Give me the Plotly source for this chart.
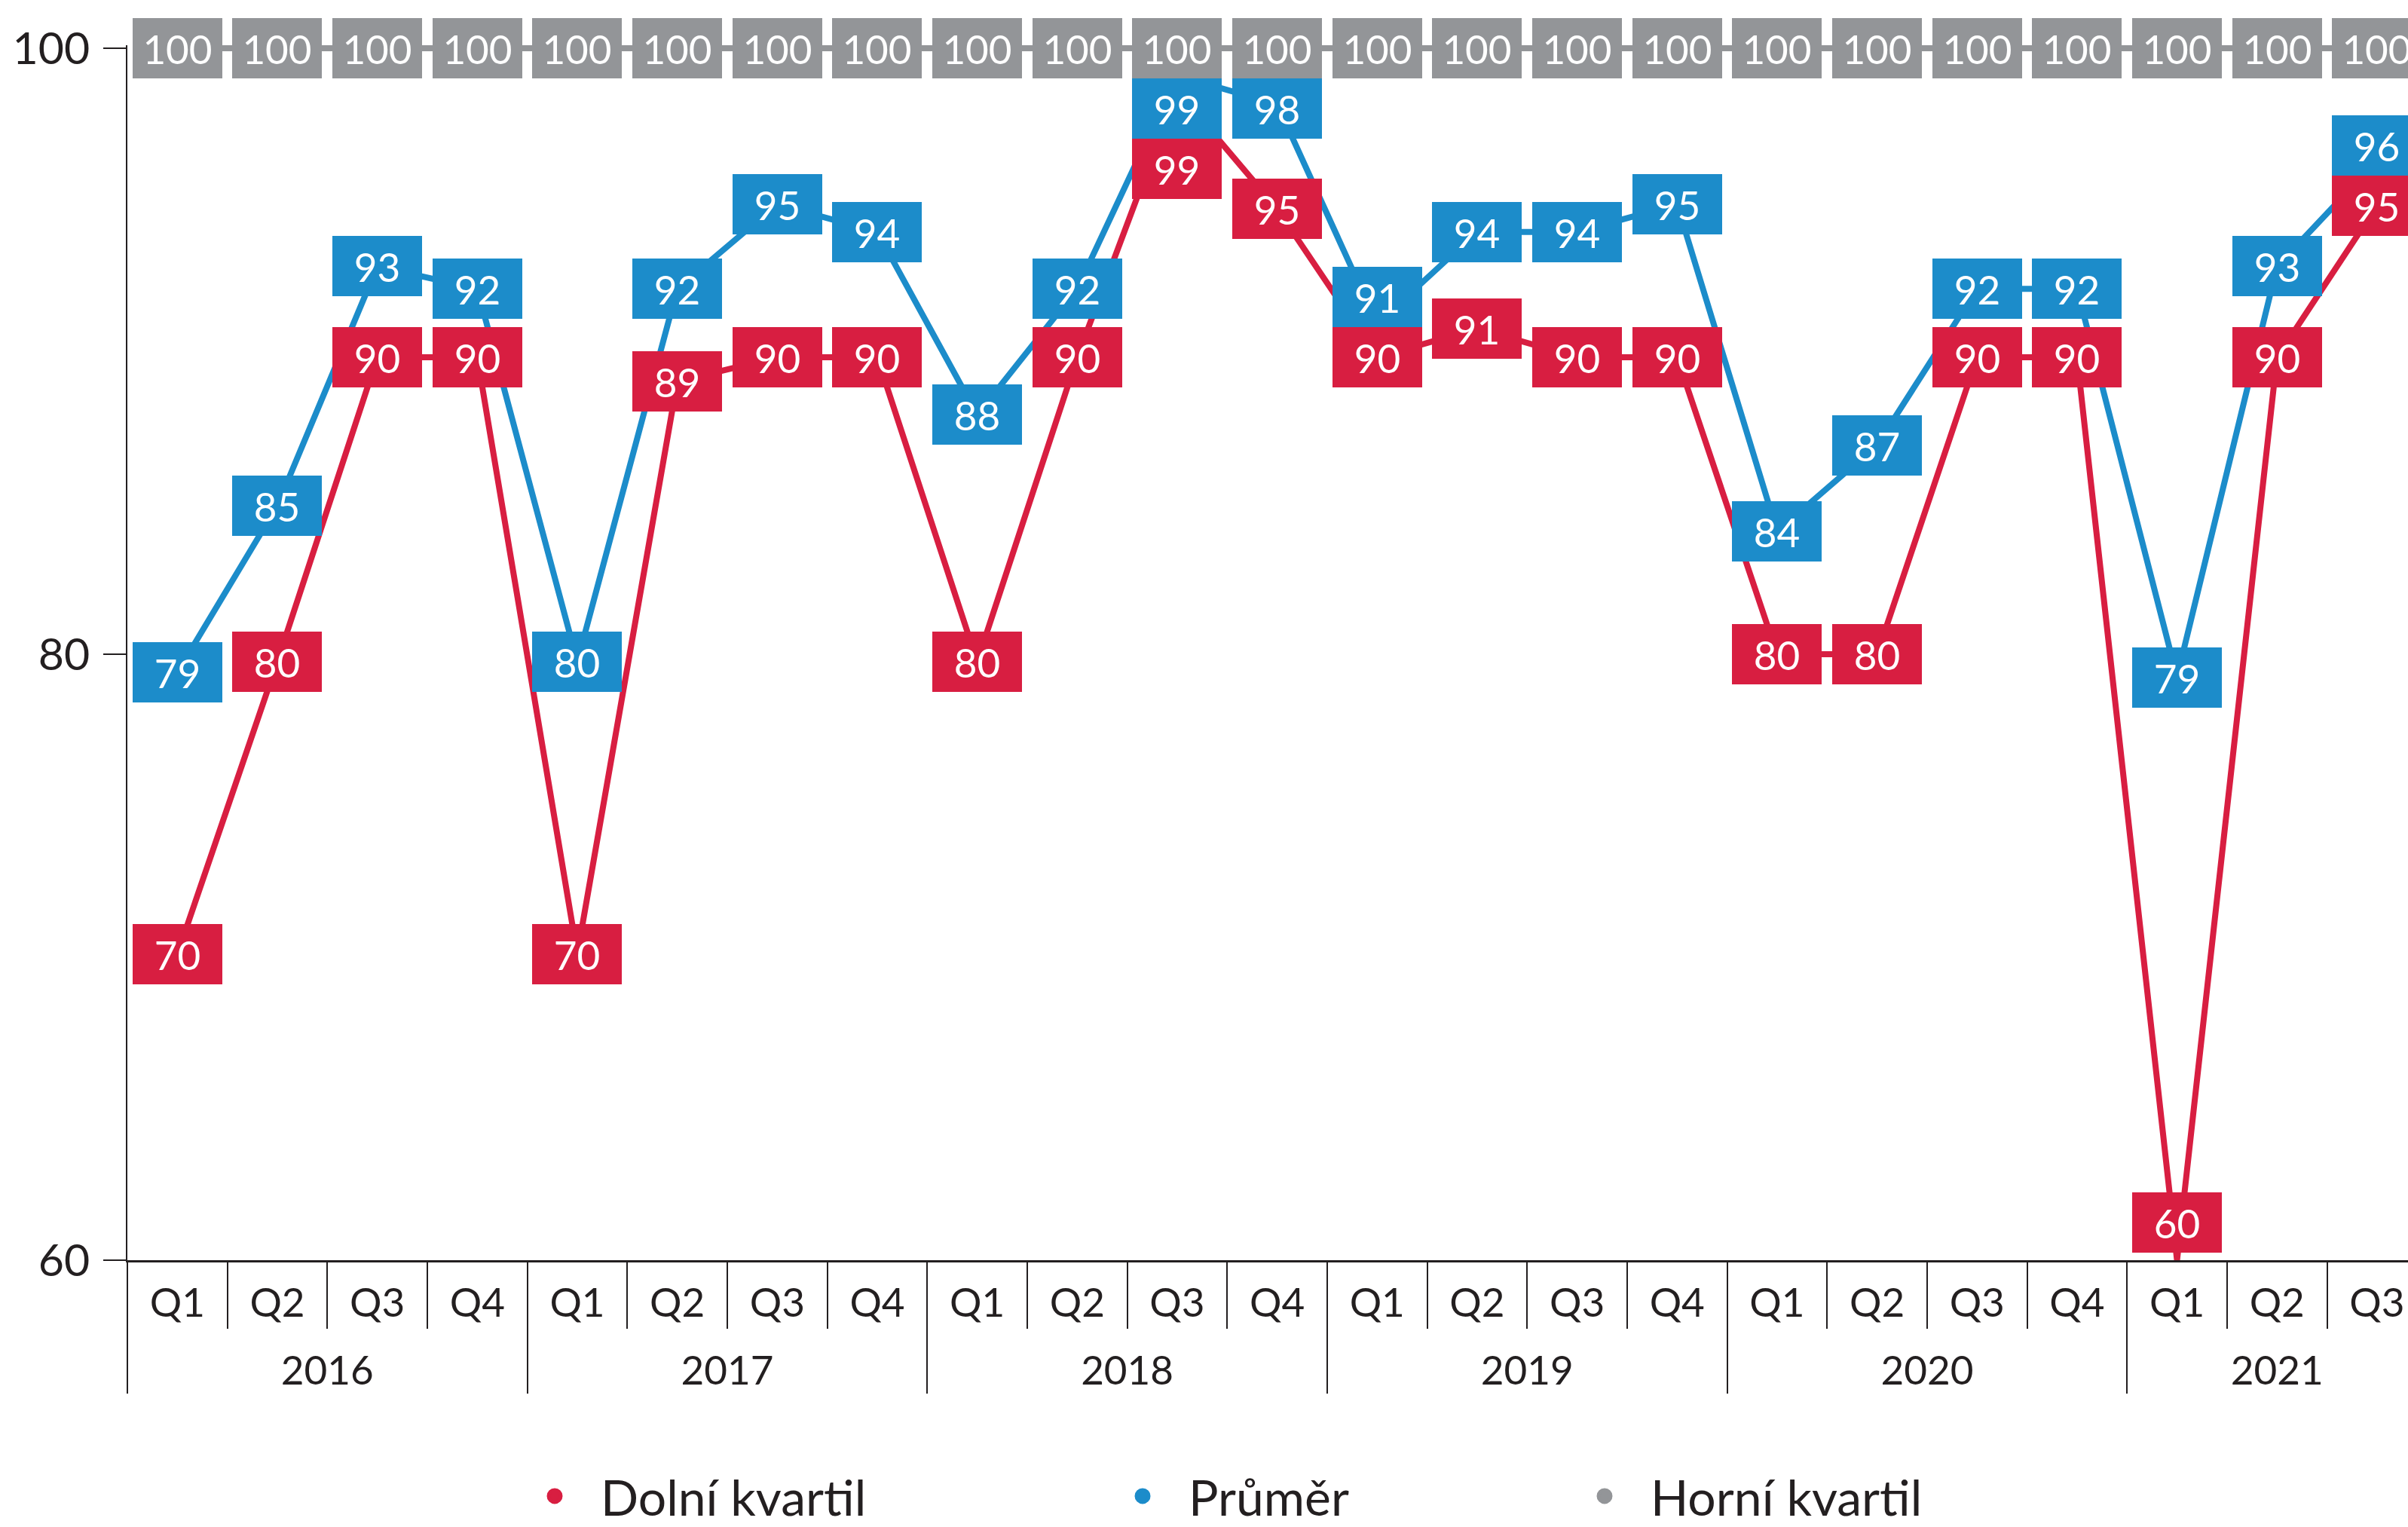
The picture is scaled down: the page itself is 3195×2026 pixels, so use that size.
import plotly.graph_objects as go

# ---------------- data ----------------
years = ["2016", "2016", "2016", "2016", "2017", "2017", "2017", "2017",
         "2018", "2018", "2018", "2018", "2019", "2019", "2019", "2019",
         "2020", "2020", "2020", "2020", "2021", "2021", "2021"]
quarters = ["Q1", "Q2", "Q3", "Q4", "Q1", "Q2", "Q3", "Q4",
            "Q1", "Q2", "Q3", "Q4", "Q1", "Q2", "Q3", "Q4",
            "Q1", "Q2", "Q3", "Q4", "Q1", "Q2", "Q3"]

dolni_kvartil = [70.1, 79.75, 89.8, 89.8, 70.1, 89.0, 89.8, 89.8,
                 79.75, 89.8, 98.6, 94.7, 89.8, 90.75, 89.8, 89.8,
                 80.0, 80.0, 89.8, 89.8, 60.0, 89.8, 94.8]
prumer = [79.4, 84.9, 92.8, 92.06, 79.75, 92.06, 94.85, 93.94,
          87.9, 92.06, 99.1, 98.15, 90.9, 93.94, 93.94, 94.85,
          84.05, 86.9, 92.06, 92.06, 79.24, 92.8, 96.3]
horni_kvartil = [100, 100, 100, 100, 100, 100, 100, 100,
                 100, 100, 100, 100, 100, 100, 100, 100,
                 100, 100, 100, 100, 100, 100, 100]

series_names = ["Dolní kvartil", "Průměr", "Horní kvartil"]
y_ticks = [60, 80, 100]

# ---------------- style ----------------
RED = "#D81E41"
BLUE = "#1C8CCA"
GRAY = "#939598"
DARK = "#231F20"
FONT = "Lato"

W, H = 3195, 2026
ML, MR, MT, MB = 169, 0, 60, 354
YMIN, YMAX = 60, 100.1
X_RANGE = [-0.5, 22.31]
BOX_W, BOX_H = 119, 80
PLOT_H = H - MT - MB
PPU = PLOT_H / (YMAX - YMIN)          # pixels per y unit
H_UNITS = BOX_H / PPU                 # label box height in y units
LOWER = YMIN + (BOX_H / 2 + 10) / PPU  # lowest allowed label centre


def place_labels(desired, weights):
    """1-D label placement: stack overlapping boxes, weighted by priority."""
    n = len(desired)
    order = sorted(range(n), key=lambda k: -desired[k])
    clusters = [[k] for k in order]

    def top(c):
        t = sum(weights[k] * (desired[k] + j * H_UNITS) for j, k in enumerate(c)) / sum(weights[k] for k in c)
        bottom = t - (len(c) - 1) * H_UNITS
        if bottom < LOWER:
            t += LOWER - bottom
        return t

    merged = True
    while merged:
        merged = False
        for a in range(len(clusters) - 1):
            ta, tb = top(clusters[a]), top(clusters[a + 1])
            if (ta - (len(clusters[a]) - 1) * H_UNITS) - tb < H_UNITS - 1e-9:
                clusters[a] = clusters[a] + clusters[a + 1]
                del clusters[a + 1]
                merged = True
                break
    pos = [0.0] * n
    for c in clusters:
        t = top(c)
        for j, k in enumerate(c):
            pos[k] = t - j * H_UNITS
    return pos


# quarter labels padded with tall blank glyphs so the year row sits lower
PAD = "<span style='font-size:80px'>&nbsp;</span>"
quarter_text = [PAD + q + PAD for q in quarters]

fig = go.Figure()

x_multi = [years, quarter_text]
line_series = [(horni_kvartil, GRAY, series_names[2]),
               (prumer, BLUE, series_names[1]),
               (dolni_kvartil, RED, series_names[0])]
for vals, col, name in line_series:
    fig.add_trace(go.Scatter(x=x_multi, y=vals, mode="lines", name=name,
                             line=dict(color=col, width=8), showlegend=False,
                             hoverinfo="skip"))

# legend entries (circle symbols), one legend each so they can be positioned
ITEM_W = 112
legend_items = [(series_names[0], RED, "legend", 738),
                (series_names[1], BLUE, "legend2", 1518),
                (series_names[2], GRAY, "legend3", 2131)]
for name, col, leg, _ in legend_items:
    fig.add_trace(go.Scatter(x=[None], y=[None], mode="markers", name=name,
                             marker=dict(symbol="circle", size=16, color=col,
                                         line=dict(color=col, width=5)),
                             xaxis="x2", yaxis="y2", legend=leg, showlegend=True))

# data labels as coloured boxes
annotations = []
label_pos = {name: [] for name in series_names}
for i in range(len(quarters)):
    desired = [horni_kvartil[i], prumer[i], dolni_kvartil[i]]
    weights = [1e6, 1.0, 100.0]
    p = place_labels(desired, weights)
    label_pos[series_names[2]].append(p[0])
    label_pos[series_names[1]].append(p[1])
    label_pos[series_names[0]].append(p[2])

for vals, col, name in line_series:
    for i, v in enumerate(vals):
        annotations.append(dict(
            x=i, y=label_pos[name][i], xref="x", yref="y",
            text=f"{round(v)}", showarrow=False,
            font=dict(family=FONT, size=53, color="white"),
            bgcolor=col, bordercolor=col, borderwidth=1, borderpad=1,
            width=BOX_W - 4, height=BOX_H - 4, align="center", valign="middle"))

legend_common = dict(orientation="h", yanchor="middle", xanchor="left",
                     bgcolor="rgba(0,0,0,0)", borderwidth=0, itemwidth=ITEM_W,
                     font=dict(family=FONT, size=66, color=DARK))
plot_w = W - ML - MR
legend_layout = {}
for name, col, leg, cx in legend_items:
    legend_layout[leg] = dict(legend_common, x=(cx - ITEM_W / 2 - 7 - ML) / plot_w,
                              y=(H - MB - 1985) / PLOT_H)

fig.update_layout(
    width=W, height=H,
    margin=dict(l=ML, r=MR, t=MT, b=MB, autoexpand=False),
    paper_bgcolor="white", plot_bgcolor="white",
    font=dict(family=FONT, color=DARK),
    xaxis=dict(type="multicategory", range=X_RANGE, showline=True,
               linewidth=3, linecolor=DARK, ticks="outside", ticklen=88,
               tickwidth=2, tickcolor=DARK, showgrid=False, zeroline=False,
               showdividers=True, dividercolor=DARK, dividerwidth=2,
               automargin=False, ticklabelstandoff=8,
               tickfont=dict(family=FONT, size=53, color=DARK)),
    yaxis=dict(range=[YMIN, YMAX], tickvals=y_ticks, ticks="outside",
               ticklen=30, tickwidth=2, tickcolor=DARK, showline=True,
               linewidth=2, linecolor=DARK, showgrid=False, zeroline=False,
               automargin=False, ticklabelstandoff=6,
               tickfont=dict(family=FONT, size=59, color=DARK)),
    xaxis2=dict(overlaying="x", visible=False),
    yaxis2=dict(overlaying="y", visible=False),
    annotations=annotations,
    **legend_layout,
)

fig.write_html("out.html",
               config={"displayModeBar": False},
               post_script="document.body.style.margin='0';"
                           "document.body.style.overflow='hidden';")
